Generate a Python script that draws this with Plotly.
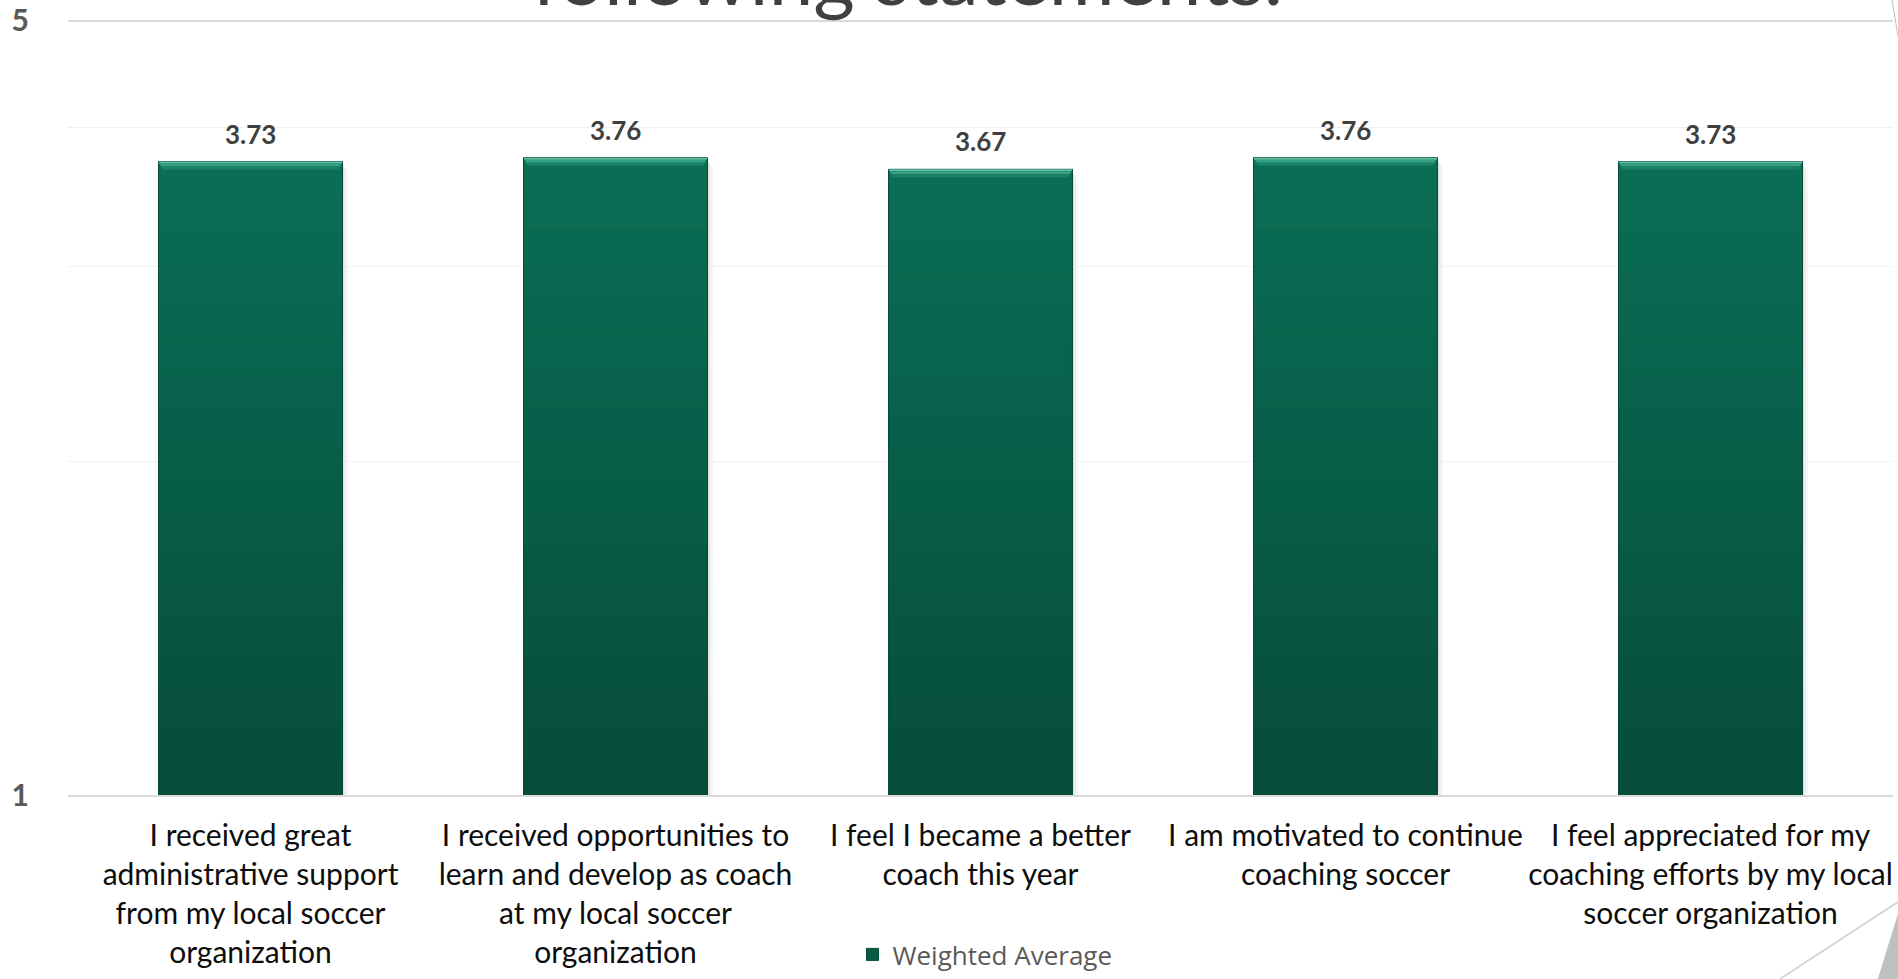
import math
import plotly.graph_objects as go

categories = [
    "I received great<br>administrative support<br>from my local soccer<br>organization",
    "I received opportunities to<br>learn and develop as coach<br>at my local soccer<br>organization",
    "I feel I became a better<br>coach this year",
    "I am motivated to continue<br>coaching soccer",
    "I feel appreciated for my<br>coaching efforts by my local<br>soccer organization",
]
values = [3.73, 3.76, 3.67, 3.76, 3.73]
value_labels = ["3.73", "3.76", "3.67", "3.76", "3.73"]
series_name = "Weighted Average"
y_tick_vals = [1, 5]
y_minor_vals = [2, 3, 4]
title_text = "following statements."

W, H = 1898, 979
ML, MR, MT, MB = 68, 5, 19, 184
BAR_W = 0.504
PLOT_W = W - ML - MR
PLOT_H = H - MT - MB
LOG_TOP = math.log10(5)
LOG_PER_PX = LOG_TOP / PLOT_H
X_PER_PX = len(categories) / PLOT_W


def mix(c1, c2, t):
    a = [int(c1[i:i + 2], 16) for i in (1, 3, 5)]
    b = [int(c2[i:i + 2], 16) for i in (1, 3, 5)]
    return "#" + "".join(f"{round(x + (y - x) * t):02x}" for x, y in zip(a, b))


fig = go.Figure()
fig.add_trace(go.Bar(
    x=list(range(len(categories))),
    y=values,
    name=series_name,
    width=BAR_W,
    marker=dict(color="#075c45", line=dict(color="#064a38", width=1)),
    hoverinfo="x+y",
))

# data labels above bars
for i, (v, t) in enumerate(zip(values, value_labels)):
    fig.add_annotation(
        x=i, y=math.log10(v), xref="x", yref="y",
        text=t, showarrow=False, yanchor="bottom", yshift=10,
        font=dict(family="Lato, sans-serif", size=26, color="#404040", weight="bold"),
    )

# soft shadow, vertical gradient and top bevel on each bar (shape y values in data units)
N_BANDS = 18
BOTTOM_C, TOP_C = "#064c3a", "#0b6f55"
for i, v in enumerate(values):
    x0, x1 = i - BAR_W / 2 + 0.0015, i + BAR_W / 2 - 0.0015
    lv = math.log10(v)
    for (a, b, c) in [(0, 2, "#dcdcdc"), (2, 4, "#ececec"), (4, 6, "#f6f6f6")]:
        fig.add_shape(type="rect", xref="x", yref="y",
                      x0=x1 + a * X_PER_PX, x1=x1 + b * X_PER_PX,
                      y0=1, y1=10 ** (lv - (4 + a) * LOG_PER_PX),
                      fillcolor=c, line=dict(width=0), layer="below")
    for k in range(N_BANDS):
        lo = 10 ** (lv * k / N_BANDS)
        hi = 10 ** (lv * (k + 1) / N_BANDS)
        fig.add_shape(type="rect", xref="x", yref="y", x0=x0, x1=x1, y0=lo, y1=hi,
                      fillcolor=mix(BOTTOM_C, TOP_C, (k + 0.5) / N_BANDS),
                      line=dict(width=0), layer="above")
    for (a, b, c, inset) in [(0, 2, "#62bca3", 0.0), (2, 5, "#35a084", 0.004), (5, 8, "#1a8166", 0.008)]:
        fig.add_shape(type="rect", xref="x", yref="y", x0=x0 + inset, x1=x1 - inset,
                      y0=10 ** (lv - b * LOG_PER_PX), y1=10 ** (lv - a * LOG_PER_PX),
                      fillcolor=c, line=dict(width=0), layer="above")


def px_x(p):
    return (p - ML) / PLOT_W


def px_y(p):
    return (H - MB - p) / PLOT_H


# title, partially cut off at the top of the page
fig.add_annotation(
    x=px_x(907), y=px_y(24), xref="paper", yref="paper",
    text=title_text, showarrow=False, xanchor="center", yanchor="bottom",
    font=dict(family="Lato, sans-serif", size=80, color="#404040"),
)

# slide decoration
fig.add_shape(type="line", xref="paper", yref="paper",
              x0=px_x(1780), y0=px_y(979), x1=px_x(1898), y1=px_y(902),
              line=dict(color="#d0d0d0", width=1.5))
fig.add_shape(type="path", xref="paper", yref="paper",
              path=f"M {px_x(1878):.5f},{px_y(980):.5f} L {px_x(1899):.5f},{px_y(912):.5f} L {px_x(1899):.5f},{px_y(980):.5f} Z",
              fillcolor="#c0c0c0", line=dict(color="#c0c0c0", width=1))
fig.add_shape(type="line", xref="paper", yref="paper",
              x0=px_x(1892), y0=px_y(0), x1=px_x(1898), y1=px_y(36),
              line=dict(color="#bfbfbf", width=1))

fig.update_layout(
    width=W, height=H,
    margin=dict(l=ML, r=MR, t=MT, b=MB, autoexpand=False),
    paper_bgcolor="white", plot_bgcolor="white",
    bargap=1 - BAR_W,
    showlegend=True,
    legend=dict(orientation="h", x=px_x(985), xanchor="center", y=px_y(978), yanchor="bottom",
                font=dict(family="Open Sans, sans-serif", size=26, color="#595959"),
                itemwidth=30, bgcolor="rgba(0,0,0,0)"),
    xaxis=dict(
        tickmode="array", tickvals=list(range(len(categories))), ticktext=categories,
        range=[-0.5, len(categories) - 0.5], automargin=False,
        showline=True, linecolor="#d9d9d9", linewidth=2, showgrid=False,
        ticks="", tickfont=dict(family="Lato, sans-serif", size=30, color="#0d0d0d"),
        tickangle=0, ticklabelstandoff=13, ticklabeloverflow="allow",
    ),
    yaxis=dict(
        type="log", range=[0, LOG_TOP + 1.5 * LOG_PER_PX], automargin=False,
        tickmode="array", tickvals=y_tick_vals, ticktext=[str(v) for v in y_tick_vals],
        showgrid=True, gridcolor="#d9d9d9", gridwidth=1.5, zeroline=False,
        tickfont=dict(family="Lato, sans-serif", size=30, color="#595959", weight="bold"),
        ticklabelstandoff=38,
        minor=dict(tickmode="array", tickvals=y_minor_vals, showgrid=True, gridcolor="#f0f0f0", gridwidth=1),
    ),
)

fig.write_html(
    "out.html",
    config={"displayModeBar": False},
    post_script="document.body.style.margin='0';document.documentElement.style.overflow='hidden';",
)
